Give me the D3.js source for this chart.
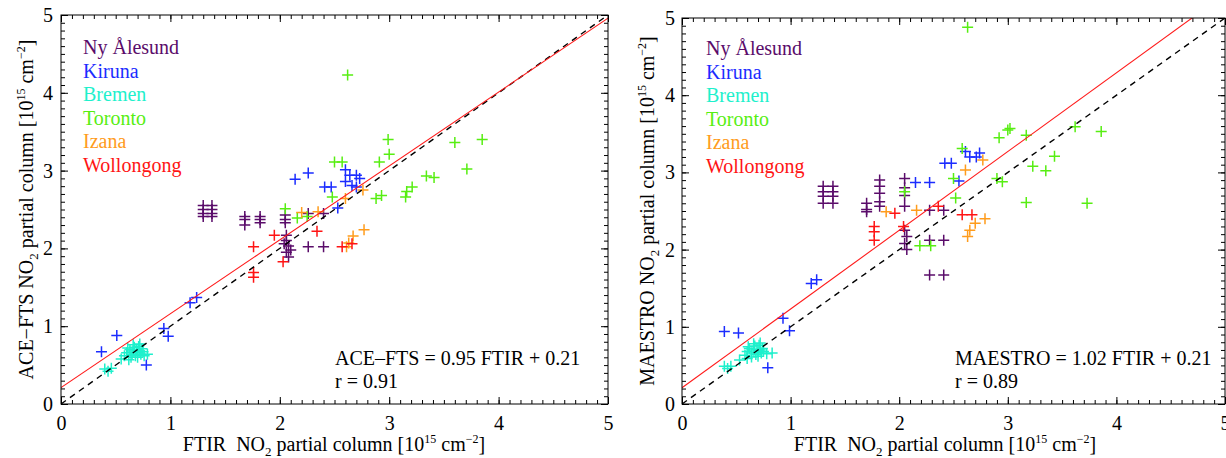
<!DOCTYPE html>
<html><head><meta charset="utf-8">
<script src="https://cdn.jsdelivr.net/npm/d3@7"></script>
<style>
html,body{margin:0;padding:0;background:#fff;}
svg, svg text, svg tspan{font-family:"Liberation Serif","Times New Roman",serif !important;}
</style></head>
<body><svg id="c" width="1226" height="458" font-family="Liberation Serif, serif"></svg>
<script>
const stations = ["Ny Ålesund","Kiruna","Bremen","Toronto","Izana","Wollongong"];
const stationColors = ["#5a0c6a","#1b2cff","#1ef0cc","#57ee12","#ff9c1c","#ff1414"];
const tickValues = [0,1,2,3,4,5];
const tickLabels = ["0","1","2","3","4","5"];

// ACE-FTS panel: [FTIR, ACE-FTS]
const aceNy = [[1.30,2.55],[1.30,2.50],[1.30,2.45],[1.30,2.41],[1.38,2.55],[1.38,2.50],[1.38,2.45],[1.38,2.41],
  [1.68,2.41],[1.68,2.37],[1.68,2.30],[1.82,2.41],[1.82,2.37],[1.82,2.33],
  [2.05,2.43],[2.05,2.37],[2.05,2.33],[2.06,2.17],[2.06,2.10],[2.08,2.03],[2.06,1.95],[2.08,1.89],[2.04,2.06],[2.10,1.98],
  [2.26,2.45],[2.40,2.45],[2.26,2.02],[2.40,2.02]];
const aceKiruna = [[0.37,0.67],[0.51,0.88],[0.78,0.50],[0.94,0.97],[0.98,0.87],[1.18,1.30],[1.24,1.37],
  [2.14,2.89],[2.26,2.97],[2.60,3.01],[2.64,2.94],[2.70,2.94],[2.73,2.90],[2.60,2.86],[2.66,2.81],[2.70,2.79],[2.41,2.79],[2.47,2.79],[2.53,2.52]];
const aceBremen = [[0.40,0.45],[0.46,0.46],[0.43,0.42],[0.55,0.58],[0.62,0.57],[0.58,0.62],[0.60,0.66],[0.63,0.70],[0.65,0.64],
  [0.66,0.68],[0.67,0.73],[0.68,0.62],[0.69,0.70],[0.70,0.66],[0.71,0.74],[0.72,0.68],[0.73,0.64],[0.74,0.71],[0.75,0.67],
  [0.76,0.62],[0.64,0.60],[0.70,0.60],[0.79,0.64],[0.66,0.76],[0.72,0.77],[0.61,0.72]];
const aceToronto = [[2.62,4.23],[2.99,3.40],[3.00,3.21],[2.91,3.11],[3.60,3.36],[3.85,3.40],[3.71,3.02],[3.34,2.93],[3.41,2.91],
  [3.21,2.79],[3.16,2.73],[3.15,2.66],[2.93,2.68],[2.88,2.64],[2.50,3.11],[2.57,3.11],[2.48,2.66],[2.05,2.51],[2.16,2.39],[2.25,2.41]];
const aceIzana = [[2.76,2.75],[2.60,2.64],[2.20,2.46],[2.35,2.47],[2.77,2.24],[2.67,2.16],[2.63,2.07],[2.61,2.02]];
const aceWollongong = [[1.76,2.02],[1.95,2.17],[1.76,1.69],[1.76,1.63],[2.03,1.83],[2.34,2.22],[2.57,2.02],[2.66,2.06]];

// MAESTRO panel: [FTIR, MAESTRO]
const maeNy = [[1.30,2.82],[1.30,2.75],[1.30,2.69],[1.30,2.60],[1.39,2.82],[1.39,2.75],[1.39,2.69],[1.39,2.60],
  [1.70,2.60],[1.70,2.52],[1.70,2.49],[1.82,2.90],[1.82,2.82],[1.82,2.73],[1.82,2.62],[1.82,2.56],
  [2.05,2.92],[2.05,2.80],[2.05,2.70],[2.05,2.56],[2.05,2.25],[2.07,2.17],[2.05,2.08],[2.07,2.00],
  [2.28,2.51],[2.41,2.51],[2.28,2.12],[2.41,2.12],[2.28,1.67],[2.41,1.67]];
const maeKiruna = [[0.39,0.94],[0.52,0.92],[0.79,0.47],[0.93,1.11],[0.99,0.95],[1.19,1.56],[1.24,1.61],[2.15,2.87],[2.28,2.87],
  [2.42,3.12],[2.48,3.12],[2.61,3.27],[2.65,3.20],[2.71,3.20],[2.74,3.25],[2.55,2.89]];
const maeBremen = [[0.39,0.49],[0.45,0.49],[0.42,0.46],[0.53,0.57],[0.60,0.59],[0.58,0.63],[0.60,0.68],[0.62,0.72],[0.64,0.66],
  [0.66,0.70],[0.67,0.75],[0.68,0.64],[0.69,0.71],[0.70,0.67],[0.71,0.76],[0.72,0.70],[0.73,0.66],[0.74,0.72],[0.75,0.68],
  [0.78,0.65],[0.83,0.66],[0.64,0.61],[0.70,0.62],[0.66,0.78],[0.72,0.79],[0.61,0.74]];
const maeToronto = [[2.63,4.88],[3.00,3.55],[3.02,3.57],[2.92,3.45],[3.17,3.48],[3.62,3.59],[3.86,3.53],[3.43,3.21],[3.23,3.08],
  [3.35,3.02],[2.90,2.92],[2.95,2.88],[3.17,2.61],[3.73,2.60],[2.58,3.31],[2.50,2.92],[2.52,2.67],[2.05,2.75],[2.19,2.05],[2.29,2.05]];
const maeIzana = [[1.88,2.49],[2.16,2.51],[2.61,3.03],[2.77,3.16],[2.79,2.40],[2.70,2.34],[2.65,2.25],[2.63,2.17]];
const maeWollongong = [[1.77,2.30],[1.77,2.23],[1.77,2.12],[1.96,2.47],[2.04,2.30],[2.36,2.56],[2.58,2.45],[2.67,2.45]];

const aceFit = {slope:0.95, intercept:0.21, r:"0.91"};
const maeFit = {slope:1.02, intercept:0.21, r:"0.89"};

const svg = d3.select("#c");
const FS = 20;
const FF = "Liberation Serif, Times New Roman, serif";

function panel(cfg){
  const x = d3.scaleLinear().domain([0,5]).range(cfg.xr);
  const y = d3.scaleLinear().domain([0,5]).range(cfg.yr);
  const g = svg.append("g").attr("font-family",FF);
  const [x0,x1] = cfg.xr, [y0,y1] = cfg.yr;
  const clipId = "clip"+cfg.id;
  svg.append("clipPath").attr("id",clipId).append("rect")
    .attr("x",x0).attr("y",y1).attr("width",x1-x0).attr("height",y0-y1);

  const pg = g.append("g").attr("clip-path",`url(#${clipId})`);
  cfg.series.forEach((s,i)=>{
    const col = stationColors[i];
    pg.selectAll(null).data(s).enter().append("path")
      .attr("d",d=>{const px=x(d[0]),py=y(d[1]);return `M${px-5.5},${py}H${px+5.5}M${px},${py-5.5}V${py+5.5}`;})
      .attr("stroke",col).attr("stroke-width",1.5).attr("fill","none");
  });
  pg.append("line").attr("x1",x(0)).attr("y1",y(0)).attr("x2",x(5)).attr("y2",y(5))
    .attr("stroke","#000").attr("stroke-width",1.4).attr("stroke-dasharray","6,5");
  const f = cfg.fit;
  pg.append("line").attr("x1",x(0)).attr("y1",y(f.intercept)).attr("x2",x(5)).attr("y2",y(f.slope*5+f.intercept))
    .attr("stroke","#ff1a1a").attr("stroke-width",1.1);

  const minor = d3.range(0,5.0001,0.1).map(v=>+v.toFixed(1));
  const mk = (axisFn, scale, tr, major, labels, pad) => {
    const a = axisFn(scale).tickValues(major?tickValues:minor)
      .tickSizeInner(major?-7:-4).tickSizeOuter(0).tickPadding(pad||0)
      .tickFormat((d,i)=> (labels && major) ? tickLabels[i] : "");
    const ag = g.append("g").attr("transform",tr).call(a);
    ag.attr("font-family",FF).attr("font-size",FS);
    ag.select(".domain").remove();
    ag.selectAll("line").attr("stroke","#000").attr("stroke-width",1);
    ag.selectAll("text").attr("font-size",FS).attr("fill","#000").attr("font-family",FF);
    return ag;
  };
  [true,false].forEach(m=>{
    mk(d3.axisBottom,x,`translate(0,${y0})`,m,true,cfg.xpad);
    mk(d3.axisTop,x,`translate(0,${y1})`,m,false);
    mk(d3.axisLeft,y,`translate(${x0},0)`,m,true,cfg.ypad);
    mk(d3.axisRight,y,`translate(${x1},0)`,m,false);
  });
  g.append("rect").attr("x",x0).attr("y",y1).attr("width",x1-x0).attr("height",y0-y1)
    .attr("fill","none").attr("stroke","#000").attr("stroke-width",1);

  stations.forEach((s,i)=>{
    g.append("text").attr("x",cfg.legX).attr("y",cfg.legY+i*23.5).attr("font-size",FS)
      .attr("font-family",FF).attr("fill",stationColors[i]).text(s);
  });

  g.append("text").attr("x",cfg.eqX).attr("y",365).attr("font-size",FS).attr("font-family",FF)
    .text(`${cfg.name} = ${f.slope.toFixed(2)} FTIR + ${f.intercept.toFixed(2)}`);
  g.append("text").attr("x",cfg.eqX).attr("y",388).attr("font-size",FS).attr("font-family",FF).text(`r = ${f.r}`);

  const xt = g.append("text").attr("x",cfg.xTitleX).attr("y",451).attr("font-size",FS).attr("font-family",FF)
    .attr("text-anchor","middle");
  buildTitle(xt,"FTIR\u00a0\u00a0NO");
  const yt = g.append("text").attr("transform",`translate(${cfg.yTitleX},${(y0+y1)/2}) rotate(-90)`)
    .attr("font-size",FS).attr("font-family",FF).attr("text-anchor","middle");
  buildTitle(yt,cfg.yName+" NO");
}
function buildTitle(t,start){
  t.append("tspan").text(start);
  t.append("tspan").attr("font-size",13).attr("dy",5).text("2");
  t.append("tspan").attr("dy",-5).text(" partial column [10");
  t.append("tspan").attr("font-size",12).attr("dy",-8).text("15");
  t.append("tspan").attr("dy",8).text(" cm");
  t.append("tspan").attr("font-size",12).attr("dy",-8).text("\u22122");
  t.append("tspan").attr("dy",8).text("]");
}

panel({id:"L", xr:[61,608], yr:[404,15], series:[aceNy,aceKiruna,aceBremen,aceToronto,aceIzana,aceWollongong],
  fit:aceFit, name:"ACE\u2013FTS", yName:"ACE\u2212FTS", legX:83, legY:54, eqX:335,
  xTitleX:334, yTitleX:33, xpad:12, ypad:8});
panel({id:"R", xr:[682,1225], yr:[404,18], series:[maeNy,maeKiruna,maeBremen,maeToronto,maeIzana,maeWollongong],
  fit:maeFit, name:"MAESTRO", yName:"MAESTRO", legX:706, legY:55, eqX:955,
  xTitleX:945, yTitleX:654, xpad:12, ypad:7});
</script></body></html>
